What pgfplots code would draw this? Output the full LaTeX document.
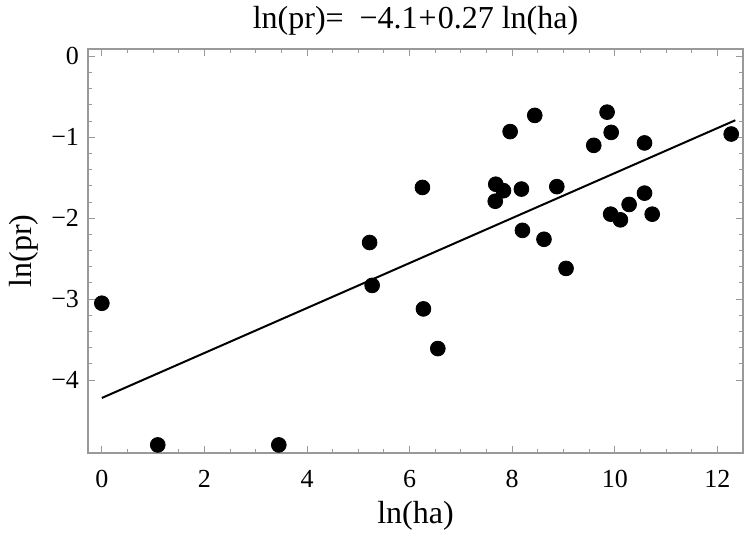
\documentclass[border=0pt]{standalone}
\usepackage{fontspec}
\setmainfont{Liberation Serif}
\usepackage{pgfplots}
\pgfplotsset{compat=1.18}
\begin{document}
\begin{tikzpicture}
\begin{axis}[
  scale only axis, width=327.5pt, height=202pt,
  xmin=-0.27, xmax=12.5, ymin=-4.9, ymax=0.09,
  xtick={0,2,4,6,8,10,12},
  ytick={-4,-3,-2,-1,0},
  yticklabels={−4,−3,−2,−1,0},
  minor x tick num=3, minor y tick num=4,
  tick align=inside,
  major tick length=3.5pt, minor tick length=2pt,
  axis line style={gray!80, line width=0.6pt},
  every tick/.style={gray!80, line width=0.5pt},
  /pgf/number format/assume math mode=true,
  ticklabel style={font=\fontsize{13}{15}\selectfont, text=black},
  xticklabel style={anchor=center, yshift=-13pt},
  yticklabel style={xshift=-1pt},
  title={ln(pr)=\hspace{8pt}−4.1\hspace{0.5pt}+\hspace{0.5pt}0.27 ln(ha)},
  title style={font=\fontsize{16}{18}\selectfont, at={(axis description cs:0.5,1.0395)}, anchor=center},
  xlabel={ln(ha)}, ylabel={ln(pr)},
  label style={font=\fontsize{16}{18}\selectfont},
  xlabel style={at={(axis description cs:0.5,-0.156)}, anchor=center},
  ylabel style={at={(axis description cs:-0.0977,0.5)}, anchor=center},
  clip=false,
]
\addplot[black, line width=1pt] coordinates {(0,-4.22) (12.35,-0.79)};
\addplot[only marks, mark=*, mark size=3.7pt, black] coordinates {
(0,-3.05) (1.09,-4.80) (3.45,-4.80) (5.22,-2.30) (5.27,-2.83)
(6.25,-1.62) (6.27,-3.12) (6.55,-3.61)
(7.68,-1.58) (7.83,-1.66) (7.67,-1.79) (7.96,-0.93) (8.44,-0.73)
(8.18,-1.64) (8.20,-2.15) (8.62,-2.26) (8.87,-1.61) (9.05,-2.62)
(9.59,-1.10) (9.85,-0.69) (9.93,-0.94) (9.92,-1.95) (10.11,-2.02)
(10.28,-1.83) (10.58,-1.07) (10.58,-1.69) (10.73,-1.95) (12.27,-0.96)
};
\coordinate (bl) at (rel axis cs:0,0);
\coordinate (tr) at (rel axis cs:1,1);
\end{axis}
\pgfresetboundingbox
\path[use as bounding box] ([shift={(-44pt,-43pt)}]bl) rectangle ([shift={(6.5pt,24.5pt)}]tr);
\end{tikzpicture}
\end{document}
